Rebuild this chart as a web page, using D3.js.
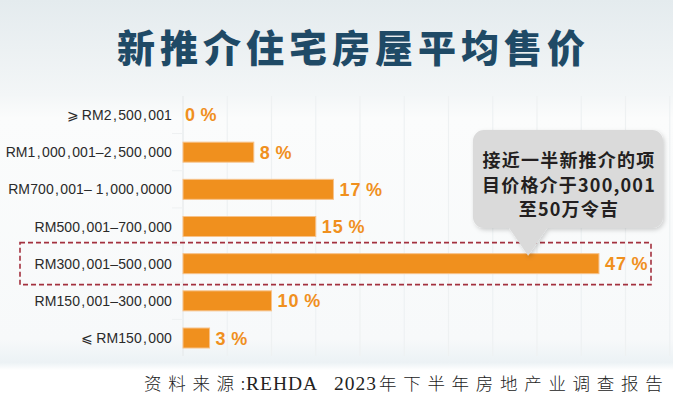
<!DOCTYPE html>
<html>
<head>
<meta charset="utf-8">
<script src="https://cdn.jsdelivr.net/npm/d3@7"></script>
<style>
  html, body { margin: 0; padding: 0; background: #fff; }
  svg { display: block; }
</style>
</head>
<body>
<div id="chart"></div>
<script>
const TITLE = '新推介住宅房屋平均售价';
const SOURCE_PARTS = ['资料来源:', 'REHDA', '2023', '年下半年房地产业调查报告'];
const PRICE_RANGES = [
  '⩾RM2,500,001',
  'RM1,000,001-2,500,000',
  'RM700,001- 1,000,0000',
  'RM500,001-700,000',
  'RM300,001-500,000',
  'RM150,001-300,000',
  '⩽RM150,000',
];
const SHARES = [0, 8, 17, 15, 47, 10, 3];
const GRID_TICKS = [0, 5, 10, 15, 20, 25, 30, 35, 40, 45, 50, 55];
const HIGHLIGHT = 'RM300,001-500,000';
const CALLOUT = ['接近一半新推介的项', '目价格介于300,001', '至50万令吉'];

const width = 673, height = 394;
const ORANGE = '#f0901e';

const svg = d3.select('#chart').append('svg')
  .attr('width', width)
  .attr('height', height);

const defs = svg.append('defs');
const bg = defs.append('linearGradient').attr('id', 'bg').attr('x1', 0).attr('y1', 0).attr('x2', 0).attr('y2', 1);
bg.append('stop').attr('offset', '0%').attr('stop-color', '#e4ebee');
bg.append('stop').attr('offset', '24%').attr('stop-color', '#f3f6f7');
bg.append('stop').attr('offset', '30%').attr('stop-color', '#fbfcfc');
bg.append('stop').attr('offset', '86%').attr('stop-color', '#f7f9fa');
bg.append('stop').attr('offset', '92%').attr('stop-color', '#ecf2f5');
bg.append('stop').attr('offset', '94%').attr('stop-color', '#ffffff');
bg.append('stop').attr('offset', '100%').attr('stop-color', '#ffffff');

const shadow = defs.append('filter').attr('id', 'shadow')
  .attr('x', '-10%').attr('y', '-10%').attr('width', '125%').attr('height', '130%');
shadow.append('feDropShadow')
  .attr('dx', 1.5).attr('dy', 2).attr('stdDeviation', 2)
  .attr('flood-color', '#000').attr('flood-opacity', 0.18);

svg.append('rect').attr('width', width).attr('height', height).attr('fill', 'url(#bg)');

// scales
const x = d3.scaleLinear().domain([0, 55]).range([183, 669.75]);
const y = d3.scalePoint().domain(PRICE_RANGES).range([96.4, 356.6]).padding(0.5);
const barH = 20;

// faint grid
svg.append('g')
  .selectAll('line')
  .data(GRID_TICKS)
  .join('line')
  .attr('x1', d => x(d)).attr('x2', d => x(d))
  .attr('y1', 96).attr('y2', 356)
  .attr('stroke', d => d === 0 ? '#e6e9eb' : '#eef1f2')
  .attr('stroke-width', 1.2);

svg.append('g')
  .selectAll('line')
  .data(PRICE_RANGES.slice(1))
  .join('line')
  .attr('x1', 172).attr('x2', 183)
  .attr('y1', d => y(d) - y.step() / 2).attr('y2', d => y(d) - y.step() / 2)
  .attr('stroke', '#eef1f2');

// title
svg.append('text')
  .attr('x', 117).attr('y', 62)
  .attr('font-family', '"Noto Sans CJK SC", sans-serif')
  .attr('font-weight', 900)
  .attr('font-size', 38)
  .attr('letter-spacing', 5)
  .attr('fill', '#1f4a66')
  .text(TITLE);

// category labels (commas spaced out a little, like the original)
svg.append('g')
  .selectAll('text')
  .data(PRICE_RANGES)
  .join('text')
  .attr('x', 172)
  .attr('y', d => y(d) + 5)
  .attr('text-anchor', 'end')
  .attr('font-family', '"Liberation Sans", Arial, sans-serif')
  .attr('font-size', 14)
  .attr('letter-spacing', 0.1)
  .attr('fill', '#2a2a2a')
  .text(d => d.replace(/,/g, '\u200A,\u200A').replace(/-/g, '\u2013').replace('⩾', '⩾\u2009').replace('⩽', '⩽\u2009'));

// bars
const rows = PRICE_RANGES.map((r, i) => ({ range: r, value: SHARES[i] }));

svg.append('g')
  .selectAll('rect')
  .data(rows.filter(d => d.value > 0))
  .join('rect')
  .attr('x', x(0))
  .attr('y', d => y(d.range) - barH / 2)
  .attr('width', d => x(d.value) - x(0))
  .attr('height', barH)
  .attr('fill', ORANGE)
  .attr('stroke', '#f7c28a')
  .attr('stroke-width', 1);

svg.append('g')
  .selectAll('text')
  .data(rows)
  .join('text')
  .attr('x', d => x(d.value) + (d.value > 0 ? 6 : 2))
  .attr('y', d => y(d.range) + 6.5)
  .attr('font-family', '"Liberation Sans", Arial, sans-serif')
  .attr('font-weight', 'bold')
  .attr('font-size', 18)
  .attr('letter-spacing', 1)
  .attr('fill', ORANGE)
  .text(d => d.value + '\u2009%');

// highlight dashed box
const hy = y(HIGHLIGHT);
svg.append('rect')
  .attr('x', 20).attr('y', hy - 21)
  .attr('width', 631).attr('height', 42)
  .attr('fill', 'none')
  .attr('stroke', '#a3313f')
  .attr('stroke-width', 1.6)
  .attr('stroke-dasharray', '5,3');

// callout bubble
const bx = 473, bw = 190, by = 130, bh = 98, r = 11;
const tipX = x(39), tipY = hy - 8;
const bubblePath = d3.path();
bubblePath.moveTo(bx + r, by);
bubblePath.lineTo(bx + bw - r, by);
bubblePath.arcTo(bx + bw, by, bx + bw, by + r, r);
bubblePath.lineTo(bx + bw, by + bh - r);
bubblePath.arcTo(bx + bw, by + bh, bx + bw - r, by + bh, r);
bubblePath.lineTo(tipX + 19, by + bh);
bubblePath.lineTo(tipX, tipY);
bubblePath.lineTo(tipX - 19, by + bh);
bubblePath.lineTo(bx + r, by + bh);
bubblePath.arcTo(bx, by + bh, bx, by + bh - r, r);
bubblePath.lineTo(bx, by + r);
bubblePath.arcTo(bx, by, bx + r, by, r);
bubblePath.closePath();

svg.append('path')
  .attr('d', bubblePath.toString())
  .attr('fill', '#dadada')
  .attr('filter', 'url(#shadow)');

svg.append('g')
  .selectAll('text')
  .data(CALLOUT)
  .join('text')
  .attr('x', bx + bw / 2 + 1)
  .attr('y', (d, i) => 167 + i * 24.5)
  .attr('text-anchor', 'middle')
  .attr('font-family', '"Noto Sans CJK SC", sans-serif')
  .attr('font-weight', 'bold')
  .attr('font-size', 18)
  .attr('letter-spacing', 1.2)
  .attr('fill', '#231f20')
  .text(d => d);

// source note: each part placed at its own start
const SOURCE_X = [144, 246, 334, 379];
svg.append('g')
  .selectAll('text')
  .data(SOURCE_PARTS)
  .join('text')
  .attr('x', (d, i) => SOURCE_X[i])
  .attr('y', 390)
  .attr('font-family', (d, i) => (i === 1 || i === 2) ? '"Liberation Serif", serif' : '"Noto Sans CJK SC", serif')
  .attr('font-weight', (d, i) => (i === 1 || i === 2) ? 'normal' : 300)
  .attr('font-size', (d, i) => (i === 1 || i === 2) ? 19.5 : 17.5)
  .attr('letter-spacing', (d, i) => (i === 1 || i === 2) ? 1 : 6.7)
  .attr('fill', '#222')
  .text(d => d);
</script>
</body>
</html>
